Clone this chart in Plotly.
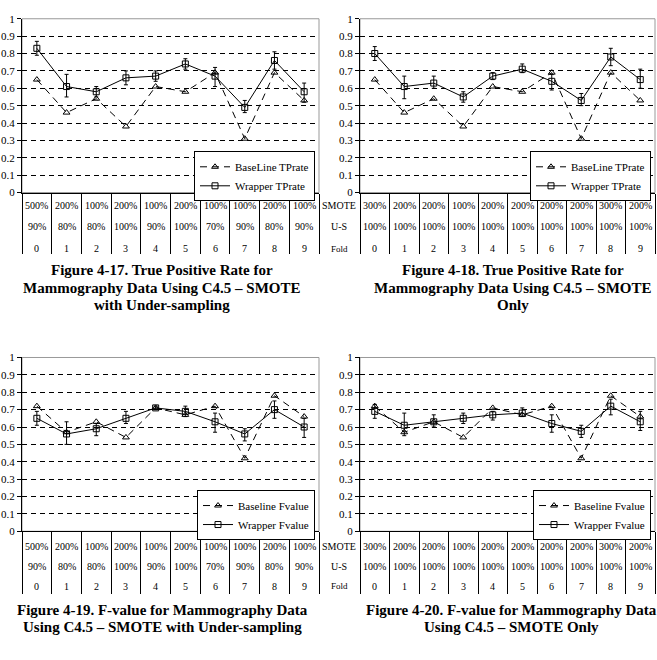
import plotly.graph_objects as go

W, H = 657, 660
FONT = "Liberation Serif"

folds = list(range(10))
fold_labels = [str(f) for f in folds]

# Left tables (SMOTE with under-sampling)
smote_us = ["500%", "200%", "100%", "200%", "100%", "200%", "100%", "100%", "200%", "100%"]
us_us = ["90%", "80%", "80%", "100%", "90%", "100%", "70%", "90%", "80%", "90%"]
# Right tables (SMOTE only)
smote_only = ["300%", "200%", "200%", "100%", "200%", "200%", "200%", "200%", "300%", "200%"]
us_only = ["100%"] * 10

# Fig 4-17 / 4-18 TP rate
base_tp = [0.65, 0.46, 0.54, 0.38, 0.61, 0.58, 0.69, 0.31, 0.69, 0.53]
wrap_tp_a = [0.83, 0.61, 0.58, 0.66, 0.67, 0.74, 0.67, 0.49, 0.76, 0.58]
wrap_tp_a_hi = [0.87, 0.68, 0.61, 0.70, 0.70, 0.77, 0.72, 0.53, 0.81, 0.63]
wrap_tp_a_lo = [0.79, 0.55, 0.55, 0.62, 0.64, 0.71, 0.61, 0.46, 0.71, 0.52]
wrap_tp_b = [0.80, 0.61, 0.63, 0.55, 0.67, 0.71, 0.64, 0.53, 0.78, 0.65]
wrap_tp_b_hi = [0.84, 0.67, 0.67, 0.58, 0.69, 0.74, 0.68, 0.57, 0.83, 0.71]
wrap_tp_b_lo = [0.76, 0.54, 0.60, 0.52, 0.65, 0.69, 0.59, 0.50, 0.73, 0.60]

# Fig 4-19 / 4-20 F-value
base_f = [0.72, 0.57, 0.63, 0.54, 0.71, 0.67, 0.72, 0.42, 0.78, 0.66]
wrap_f_a = [0.65, 0.56, 0.59, 0.65, 0.71, 0.69, 0.63, 0.56, 0.70, 0.60]
wrap_f_a_hi = [0.69, 0.63, 0.62, 0.69, 0.72, 0.72, 0.68, 0.59, 0.75, 0.65]
wrap_f_a_lo = [0.61, 0.50, 0.55, 0.62, 0.70, 0.66, 0.57, 0.52, 0.65, 0.54]
wrap_f_b = [0.69, 0.61, 0.63, 0.65, 0.67, 0.68, 0.62, 0.575, 0.72, 0.63]
wrap_f_b_hi = [0.73, 0.68, 0.67, 0.68, 0.69, 0.71, 0.67, 0.61, 0.76, 0.69]
wrap_f_b_lo = [0.65, 0.55, 0.60, 0.62, 0.64, 0.66, 0.57, 0.54, 0.67, 0.58]

captions = [
    ["Figure 4-17. True Positive Rate for", "Mammography Data Using C4.5 – SMOTE", "with Under-sampling"],
    ["Figure 4-18. True Positive Rate for", "Mammography Data Using C4.5 – SMOTE", "Only"],
    ["Figure 4-19. F-value for Mammography Data", "Using C4.5 – SMOTE with Under-sampling"],
    ["Figure 4-20. F-value for Mammography Data", "Using C4.5 – SMOTE Only"],
]
row_names = ["SMOTE", "U-S", "Fold"]


def px(x):
    return x / W


def py(y):
    return 1 - y / H


panels = [
    dict(xd=(22, 319), yd=(13, 190), base=base_tp, wrap=wrap_tp_a, hi=wrap_tp_a_hi, lo=wrap_tp_a_lo,
         names=("BaseLine TPrate", "Wrapper TPrate"), rows=(smote_us, us_us, fold_labels),
         rowy=(203, 225, 247), tlen=60, cap=captions[0], capx=162, capy=(269, 287, 305), labels=False),
    dict(xd=(360, 655), yd=(13, 190), base=base_tp, wrap=wrap_tp_b, hi=wrap_tp_b_hi, lo=wrap_tp_b_lo,
         names=("BaseLine TPrate", "Wrapper TPrate"), rows=(smote_only, us_only, fold_labels),
         rowy=(203, 225, 247), tlen=60, cap=captions[1], capx=513, capy=(269, 287, 305), labels=True),
    dict(xd=(22, 319), yd=(358, 535), base=base_f, wrap=wrap_f_a, hi=wrap_f_a_hi, lo=wrap_f_a_lo,
         names=("Baseline Fvalue", "Wrapper Fvalue"), rows=(smote_us, us_us, fold_labels),
         rowy=(551, 571, 591), tlen=62, cap=captions[2], capx=162, capy=(615, 633), labels=False),
    dict(xd=(360, 655), yd=(358, 535), base=base_f, wrap=wrap_f_b, hi=wrap_f_b_hi, lo=wrap_f_b_lo,
         names=("Baseline Fvalue", "Wrapper Fvalue"), rows=(smote_only, us_only, fold_labels),
         rowy=(551, 571, 591), tlen=62, cap=captions[3], capx=511, capy=(615, 633), labels=True),
]

fig = go.Figure()
annotations = []
shapes = []
layout = {}

for i, p in enumerate(panels):
    n = i + 1
    xa = "x" if n == 1 else f"x{n}"
    ya = "y" if n == 1 else f"y{n}"
    lg = "legend" if n == 1 else f"legend{n}"

    fig.add_trace(go.Scatter(
        x=folds, y=p["base"], name=p["names"][0], xaxis=xa, yaxis=ya, legend=lg,
        mode="lines+markers",
        line=dict(color="black", width=1, dash="7px,5px"),
        marker=dict(symbol="triangle-up-open", size=6, color="black", line=dict(width=1)),
    ))
    plus = [h - v for h, v in zip(p["hi"], p["wrap"])]
    minus = [v - l for v, l in zip(p["wrap"], p["lo"])]
    fig.add_trace(go.Scatter(
        x=folds, y=p["wrap"], name=p["names"][1], xaxis=xa, yaxis=ya, legend=lg,
        mode="lines+markers",
        line=dict(color="black", width=1),
        marker=dict(symbol="square-open", size=6, color="black", line=dict(width=1)),
        error_y=dict(type="data", array=plus, arrayminus=minus, color="black", thickness=1, width=2),
    ))

    x0, x1 = p["xd"]
    y0, y1 = p["yd"]
    layout["xaxis" if n == 1 else f"xaxis{n}"] = dict(
        domain=[px(x0), px(x1)], anchor=ya, range=[-0.5, 9.5],
        tickvals=[f - 0.5 for f in folds] + [9.5], showticklabels=False,
        ticks="outside", ticklen=p["tlen"], tickcolor="black", tickwidth=1,
        showgrid=False, zeroline=False, showline=True, linecolor="black", linewidth=1,
    )
    layout["yaxis" if n == 1 else f"yaxis{n}"] = dict(
        domain=[py(y1), py(y0)], anchor=xa, range=[0, 1],
        tickvals=[k / 10 for k in range(11)], ticktext=["0"] + [f"0.{k}" for k in range(1, 10)] + ["1"],
        ticks="outside", ticklen=4, tickcolor="black",
        tickfont=dict(family=FONT, size=11, color="black"),
        showgrid=True, gridcolor="black", gridwidth=1, griddash="5px,4px",
        zeroline=False, showline=True, linecolor="black", linewidth=1,
    )
    layout[lg] = dict(
        x=px(x1 - 4), xanchor="right", y=py(y1 - 42), yanchor="top",
        bgcolor="white", bordercolor="black", borderwidth=1,
        font=dict(family=FONT, size=11, color="black"),
        tracegroupgap=0, itemwidth=30,
    )
    shapes.append(dict(type="rect", xref=f"{xa} domain", yref=f"{ya} domain",
                       x0=0, x1=1, y0=0, y1=1, line=dict(color="#999999", width=1), layer="below"))

    for r, vals in enumerate(p["rows"]):
        for f, t in zip(folds, vals):
            annotations.append(dict(x=f, y=py(p["rowy"][r]), xref=xa, yref="paper", text=t,
                                    showarrow=False, font=dict(family=FONT, size=10, color="black"),
                                    xanchor="center", yanchor="middle"))
        if p["labels"]:
            annotations.append(dict(x=px(339), y=py(p["rowy"][r]), xref="paper", yref="paper",
                                    text=row_names[r], showarrow=False,
                                    font=dict(family=FONT, size=10 if r < 2 else 9, color="black"),
                                    xanchor="center", yanchor="middle"))
    for line_text, cy in zip(p["cap"], p["capy"]):
        annotations.append(dict(x=px(p["capx"]), y=py(cy), xref="paper", yref="paper",
                                text=f"<b>{line_text}</b>", showarrow=False,
                                font=dict(family=FONT, size=15, color="black"),
                                xanchor="center", yanchor="middle"))

fig.update_layout(
    width=W, height=H, margin=dict(l=0, r=0, t=0, b=0),
    paper_bgcolor="white", plot_bgcolor="white",
    font=dict(family=FONT, color="black"),
    annotations=annotations, shapes=shapes, showlegend=True,
    **layout,
)

fig.write_html("out.html")
